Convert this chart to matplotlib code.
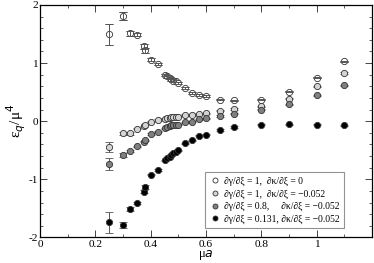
import matplotlib
matplotlib.use("Agg")
import matplotlib.pyplot as plt
import numpy as np

plt.rcParams['font.family'] = ['Liberation Serif', 'DejaVu Serif']

mu_a = [0.25, 0.30, 0.325, 0.35, 0.375, 0.38, 0.40, 0.425, 0.45, 0.46, 0.47,
        0.475, 0.48, 0.49, 0.50, 0.525, 0.55, 0.575, 0.60, 0.65, 0.70, 0.80,
        0.90, 1.00, 1.10]

eps_s1 = [1.50, 1.81, 1.51, 1.49, 1.29, 1.22, 1.06, 0.98, 0.79, 0.77, 0.74,
          0.72, 0.70, 0.69, 0.66, 0.57, 0.49, 0.45, 0.43, 0.37, 0.36, 0.37,
          0.51, 0.75, 1.03]
err_s1 = [0.18, 0.07, 0.04, 0.03, 0.04, 0.04, 0.02, 0.02, 0.02, 0.02, 0.02,
          0.02, 0.02, 0.02, 0.02, 0.02, 0.02, 0.02, 0.02, 0.01, 0.01, 0.01,
          0.01, 0.01, 0.01]

eps_s2 = [-0.44, -0.21, -0.21, -0.13, -0.09, -0.06, -0.01, 0.02, 0.04, 0.05,
          0.06, 0.07, 0.07, 0.07, 0.08, 0.11, 0.10, 0.13, 0.14, 0.18, 0.21,
          0.26, 0.39, 0.60, 0.83]
err_s2 = [0.09, 0.03, 0.03, 0.01, 0.01, 0.01, 0.01, 0.01, 0.01, 0.01, 0.01,
          0.01, 0.01, 0.01, 0.01, 0.01, 0.01, 0.01, 0.01, 0.01, 0.01, 0.01,
          0.01, 0.01, 0.01]

eps_s3 = [-0.74, -0.58, -0.51, -0.43, -0.35, -0.33, -0.22, -0.18, -0.12, -0.10,
          -0.09, -0.07, -0.07, -0.06, -0.06, -0.02, -0.01, 0.03, 0.05, 0.09,
          0.13, 0.20, 0.29, 0.45, 0.62]
err_s3 = [0.10, 0.03, 0.02, 0.01, 0.01, 0.01, 0.01, 0.01, 0.01, 0.01, 0.01,
          0.01, 0.01, 0.01, 0.01, 0.01, 0.01, 0.01, 0.01, 0.01, 0.01, 0.01,
          0.01, 0.01, 0.01]

eps_s4 = [-1.74, -1.78, -1.51, -1.41, -1.21, -1.13, -0.92, -0.84, -0.67, -0.64,
          -0.61, -0.58, -0.55, -0.53, -0.50, -0.38, -0.33, -0.25, -0.23, -0.15,
          -0.10, -0.06, -0.05, -0.06, -0.07]
err_s4 = [0.18, 0.05, 0.04, 0.02, 0.03, 0.03, 0.01, 0.01, 0.01, 0.01, 0.01,
          0.01, 0.01, 0.01, 0.01, 0.01, 0.01, 0.01, 0.01, 0.01, 0.01, 0.01,
          0.01, 0.01, 0.01]

labels = ["\u2202\u03b3/\u2202\u03be = 1,  \u2202\u03ba/\u2202\u03be = 0",
          "\u2202\u03b3/\u2202\u03be = 1,  \u2202\u03ba/\u2202\u03be = \u22120.052",
          "\u2202\u03b3/\u2202\u03be = 0.8,     \u2202\u03ba/\u2202\u03be = \u22120.052",
          "\u2202\u03b3/\u2202\u03be = 0.131, \u2202\u03ba/\u2202\u03be = \u22120.052"]

fills = ['white', '#d4d4d4', '#808080', 'black']
overlay = [True, False, False, False]
series = [(eps_s1, err_s1), (eps_s2, err_s2), (eps_s3, err_s3), (eps_s4, err_s4)]

fig = plt.figure(figsize=(3.74, 2.63), dpi=100)
ax = fig.add_axes([0.107, 0.097, 0.888, 0.884])

for (vals, errs), fc, lab, ov in zip(series, fills, labels, overlay):
    ax.errorbar(mu_a, vals, yerr=errs, fmt='o', ms=4.5, mfc=fc, mec='#333333',
                mew=0.6, ecolor='#555555', elinewidth=0.7, capsize=2.8,
                capthick=0.7, label=lab, zorder=3)
    if ov:
        ax.errorbar(mu_a, vals, yerr=errs, fmt='none', ecolor='#555555',
                    elinewidth=0.7, capsize=2.8, capthick=0.7, zorder=4)

ax.set_xlim(0, 1.2)
ax.set_ylim(-2, 2)
ax.set_xticks([0, 0.2, 0.4, 0.6, 0.8, 1.0])
ax.set_xticklabels(['0', '0.2', '0.4', '0.6', '0.8', '1'])
ax.set_xticks(np.arange(0.1, 1.2, 0.2), minor=True)
ax.set_yticks([-2, -1, 0, 1, 2])
ax.set_yticklabels(['-2', '-1', '0', '1', '2'])
ax.set_yticks([v for v in np.arange(-2, 2.01, 0.2) if abs(v - round(v)) > 1e-6], minor=True)
ax.tick_params(which='both', direction='in', top=True, right=True, labelsize=8.2,
               pad=1.5, color='#444444')
ax.tick_params(which='major', length=5, width=0.7)
ax.tick_params(which='minor', length=2.5, width=0.6)
for s in ax.spines.values():
    s.set_linewidth(0.9)

ax.set_xlabel("\u03bc$a$", fontsize=9, labelpad=-0.5)
ax.set_ylabel("\u03b5$_q$/\u03bc$^4$", fontsize=11, labelpad=0)

handles, labs = ax.get_legend_handles_labels()
hs = [h[0] for h in handles]
leg = ax.legend(hs, labs, loc='lower left', bbox_to_anchor=(0.497, 0.04),
                fontsize=6.9, frameon=True, fancybox=False, borderpad=0.45,
                labelspacing=0.35, handletextpad=0.3, handlelength=1.2,
                markerscale=0.8, borderaxespad=0)
leg.get_frame().set_edgecolor('#777777')
leg.get_frame().set_linewidth(0.8)

fig.savefig('out.png', dpi=100)
